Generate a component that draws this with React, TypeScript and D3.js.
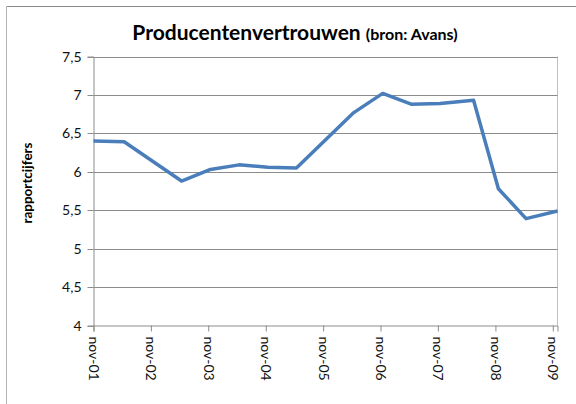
import { useEffect, useRef } from 'react';
import * as d3 from 'd3';

// meetmomenten en rapportcijfers
const dates = [
  '2001-11-01', '2002-05-15', '2003-05-15', '2003-11-15', '2004-05-15', '2004-11-15',
  '2005-05-15', '2006-05-15', '2006-11-15', '2007-05-15', '2007-11-15', '2008-06-15',
  '2008-11-20', '2009-05-15', '2009-12-01',
];
const values = [6.40, 6.39, 5.88, 6.03, 6.09, 6.06, 6.05, 6.77, 7.02, 6.88, 6.89, 6.93, 5.78, 5.39, 5.49];
const yTicks = [4, 4.5, 5, 5.5, 6, 6.5, 7, 7.5];
const xTickYears = [2001, 2002, 2003, 2004, 2005, 2006, 2007, 2008, 2009];

const W = 576;
const H = 404;
const FONT = 'Lato, "Open Sans", sans-serif';

export default function App() {
  const svgRef = useRef<SVGSVGElement>(null);

  useEffect(() => {
    if (!svgRef.current) return;
    const svg = d3.select(svgRef.current);
    svg.selectAll('*').remove();

    const parse = d3.timeParse('%Y-%m-%d');
    const data = dates.map((d, i) => ({ date: parse(d) as Date, value: values[i] }));

    const left = 93.5, right = 557.5, top = 56.5, bottom = 325.5;
    const x = d3.scaleTime()
      .domain([data[0].date, data[data.length - 1].date])
      .range([left, right]);
    const y = d3.scaleLinear().domain([4, 7.5]).range([bottom, top]);

    // outer chart frame
    svg.append('line').attr('x1', 6.5).attr('x2', W).attr('y1', 6.5).attr('y2', 6.5)
      .attr('stroke', '#8a8a8a').attr('stroke-width', 1);
    svg.append('line').attr('x1', 6.5).attr('x2', 6.5).attr('y1', 6.5).attr('y2', H)
      .attr('stroke', '#b4b4b4').attr('stroke-width', 1);

    // plot area right border
    svg.append('line').attr('x1', right).attr('x2', right).attr('y1', top).attr('y2', bottom)
      .attr('stroke', '#c0c0c0').attr('stroke-width', 1);

    // gridlines
    svg.append('g').selectAll('line').data(yTicks.filter((t) => t > 4)).enter().append('line')
      .attr('x1', left).attr('x2', right)
      .attr('y1', (d) => Math.round(y(d)) + 0.5).attr('y2', (d) => Math.round(y(d)) + 0.5)
      .attr('stroke', '#8c8c8c').attr('stroke-width', 1);

    // y axis
    const gy = svg.append('g').attr('transform', `translate(${left},0)`)
      .call(d3.axisLeft(y).tickValues(yTicks).tickSize(6).tickPadding(6)
        .tickFormat((d) => String(d).replace('.', ',')));
    gy.select('.domain').attr('stroke', '#8c8c8c');
    gy.selectAll('.tick line').attr('stroke', '#8c8c8c');
    gy.selectAll('.tick').attr('transform', (d: any) => `translate(0,${Math.round(y(d)) + 0.5})`);
    gy.selectAll('text').attr('fill', '#111').attr('font-size', '14px').attr('font-family', FONT);

    // x axis
    const xTickDates = xTickYears.map((yr) => new Date(yr, 10, 1));
    const gx = svg.append('g').attr('transform', `translate(0,${bottom})`)
      .call(d3.axisBottom(x).tickValues(xTickDates).tickSize(6)
        .tickFormat((d) => `nov-${d3.timeFormat('%y')(d as Date)}`));
    gx.select('.domain').attr('stroke', '#8c8c8c');
    gx.selectAll('.tick line').attr('stroke', '#8c8c8c');
    gx.selectAll('text')
      .attr('fill', '#111').attr('font-size', '14px').attr('font-family', FONT)
      .attr('text-anchor', 'start').attr('dy', '0.35em').attr('y', 0)
      .attr('transform', 'translate(0,11) rotate(90)');

    // line
    const line = d3.line<{ date: Date; value: number }>()
      .x((d) => x(d.date)).y((d) => y(d.value));
    svg.append('path').datum(data)
      .attr('fill', 'none').attr('stroke', '#4a7ebb').attr('stroke-width', 3.5)
      .attr('stroke-linejoin', 'round').attr('d', line);

    // title
    const title = svg.append('text').attr('x', 295).attr('y', 40).attr('text-anchor', 'middle')
      .attr('font-family', FONT).attr('font-weight', 'bold').attr('fill', '#000');
    title.append('tspan').attr('font-size', '21px').text('Producentenvertrouwen ');
    title.append('tspan').attr('font-size', '16px').text('(bron: Avans)');

    // y axis label
    svg.append('text').attr('transform', 'translate(32,183) rotate(-90)')
      .attr('text-anchor', 'middle').attr('font-family', FONT)
      .attr('font-weight', 'bold').attr('font-size', '13.5px').attr('fill', '#000')
      .text('rapportcijfers');
  }, []);

  return (
    <div style={{ position: 'absolute', left: 0, top: 0, width: W, height: H, background: '#fff' }}>
      <svg ref={svgRef} width={W} height={H} style={{ display: 'block' }} />
    </div>
  );
}
